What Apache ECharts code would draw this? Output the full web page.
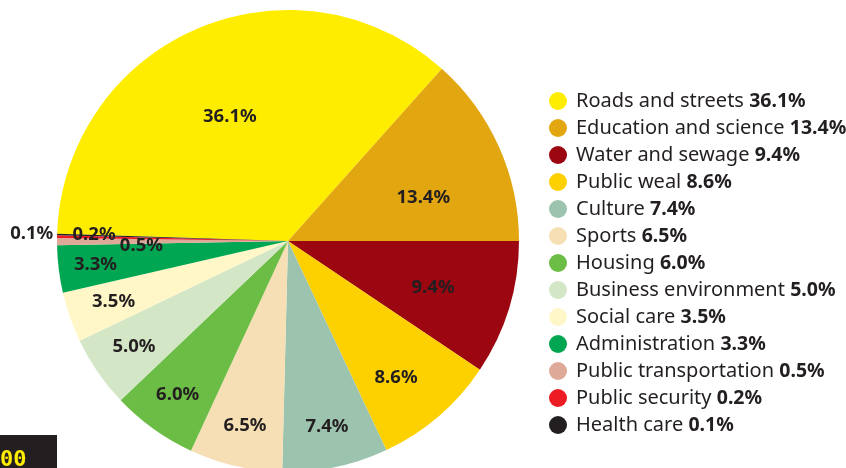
<!DOCTYPE html>
<html>
<head>
<meta charset="utf-8">
<script src="https://cdn.jsdelivr.net/npm/echarts@6/dist/echarts.min.js"></script>
<style>
  html, body { margin: 0; padding: 0; background: #fff; }
  #chart { width: 846px; height: 468px; }
</style>
</head>
<body>
<div id="chart"></div>
<script>
const categories = [
  'Roads and streets', 'Education and science', 'Water and sewage', 'Public weal',
  'Culture', 'Sports', 'Housing', 'Business environment', 'Social care',
  'Administration', 'Public transportation', 'Public security', 'Health care'
]
const shares = [36.1, 13.4, 9.4, 8.6, 7.4, 6.5, 6.0, 5.0, 3.5, 3.3, 0.5, 0.2, 0.1]

const colors = [
  '#ffed00', '#e2a610', '#9b0610', '#fdd000', '#9cc3ae', '#f6dfb4', '#6cbd45',
  '#d3e6c6', '#fff7c8', '#00a651', '#dea997', '#ed1c24', '#231f20'
]
// label distance from centre (share of radius) and small angle nudges (deg)
const labelRadius = [0.593, 0.615, 0.66, 0.755, 0.82, 0.82, 0.82, 0.81, 0.8, 0.84, 0.635, 0.84, 1.11]
const labelShift = [1.9, -6.4, -1, -2.4, 0, 0, 0, 0, 0, 0, 1.5, -0.8, 0]

const cx = 288
const cy = 241
const radius = 231
const startAngle = 178.2
const font = 'Noto Sans'

const total = shares.reduce((a, b) => a + b, 0)
const midAngles = []
let acc = 0
shares.forEach(v => {
  midAngles.push(startAngle - 360 * (acc + v / 2) / total)
  acc += v
})

const chart = echarts.init(document.getElementById('chart'))
chart.setOption({
  animation: false,
  color: colors,
  legend: {
    orient: 'vertical',
    left: 544,
    top: 86,
    icon: 'circle',
    itemWidth: 18,
    itemHeight: 18,
    itemGap: 7,
    selectedMode: false,
    formatter: name => {
      const v = shares[categories.indexOf(name)]
      return '{n|' + name + '} {b|' + v.toFixed(1) + '%}'
    },
    textStyle: {
      fontFamily: font,
      fontSize: 20,
      lineHeight: 18,
      color: '#231f20',
      rich: {
        n: { fontFamily: font, fontSize: 20, lineHeight: 18, color: '#231f20', padding: [0, 0, 0, 4] },
        b: { fontFamily: font, fontSize: 19.5, lineHeight: 18, fontWeight: 'bold', color: '#231f20' }
      }
    }
  },
  graphic: [
    { type: 'rect', left: 0, top: 435, shape: { width: 57, height: 33 }, style: { fill: '#231f20' } },
    { type: 'text', left: 0, top: 449, style: { text: '00', fill: '#ffed00', font: 'bold 22px monospace' } }
  ],
  series: [{
    type: 'pie',
    center: [cx, cy],
    radius: [0, radius],
    startAngle: startAngle,
    clockwise: true,
    avoidLabelOverlap: false,
    labelLine: { show: false },
    label: {
      show: true,
      position: 'inside',
      fontFamily: font,
      fontSize: 18.5,
      fontWeight: 'bold',
      color: '#231f20',
      formatter: p => p.value.toFixed(1) + '%'
    },
    labelLayout: params => {
      const i = params.dataIndex
      const a = (midAngles[i] + labelShift[i]) * Math.PI / 180
      const r = radius * labelRadius[i]
      return {
        x: cx + r * Math.cos(a),
        y: cy - r * Math.sin(a),
        align: 'center',
        verticalAlign: 'middle'
      }
    },
    emphasis: { disabled: true },
    data: categories.map((name, i) => ({ name: name, value: shares[i] }))
  }]
})
</script>
</body>
</html>
